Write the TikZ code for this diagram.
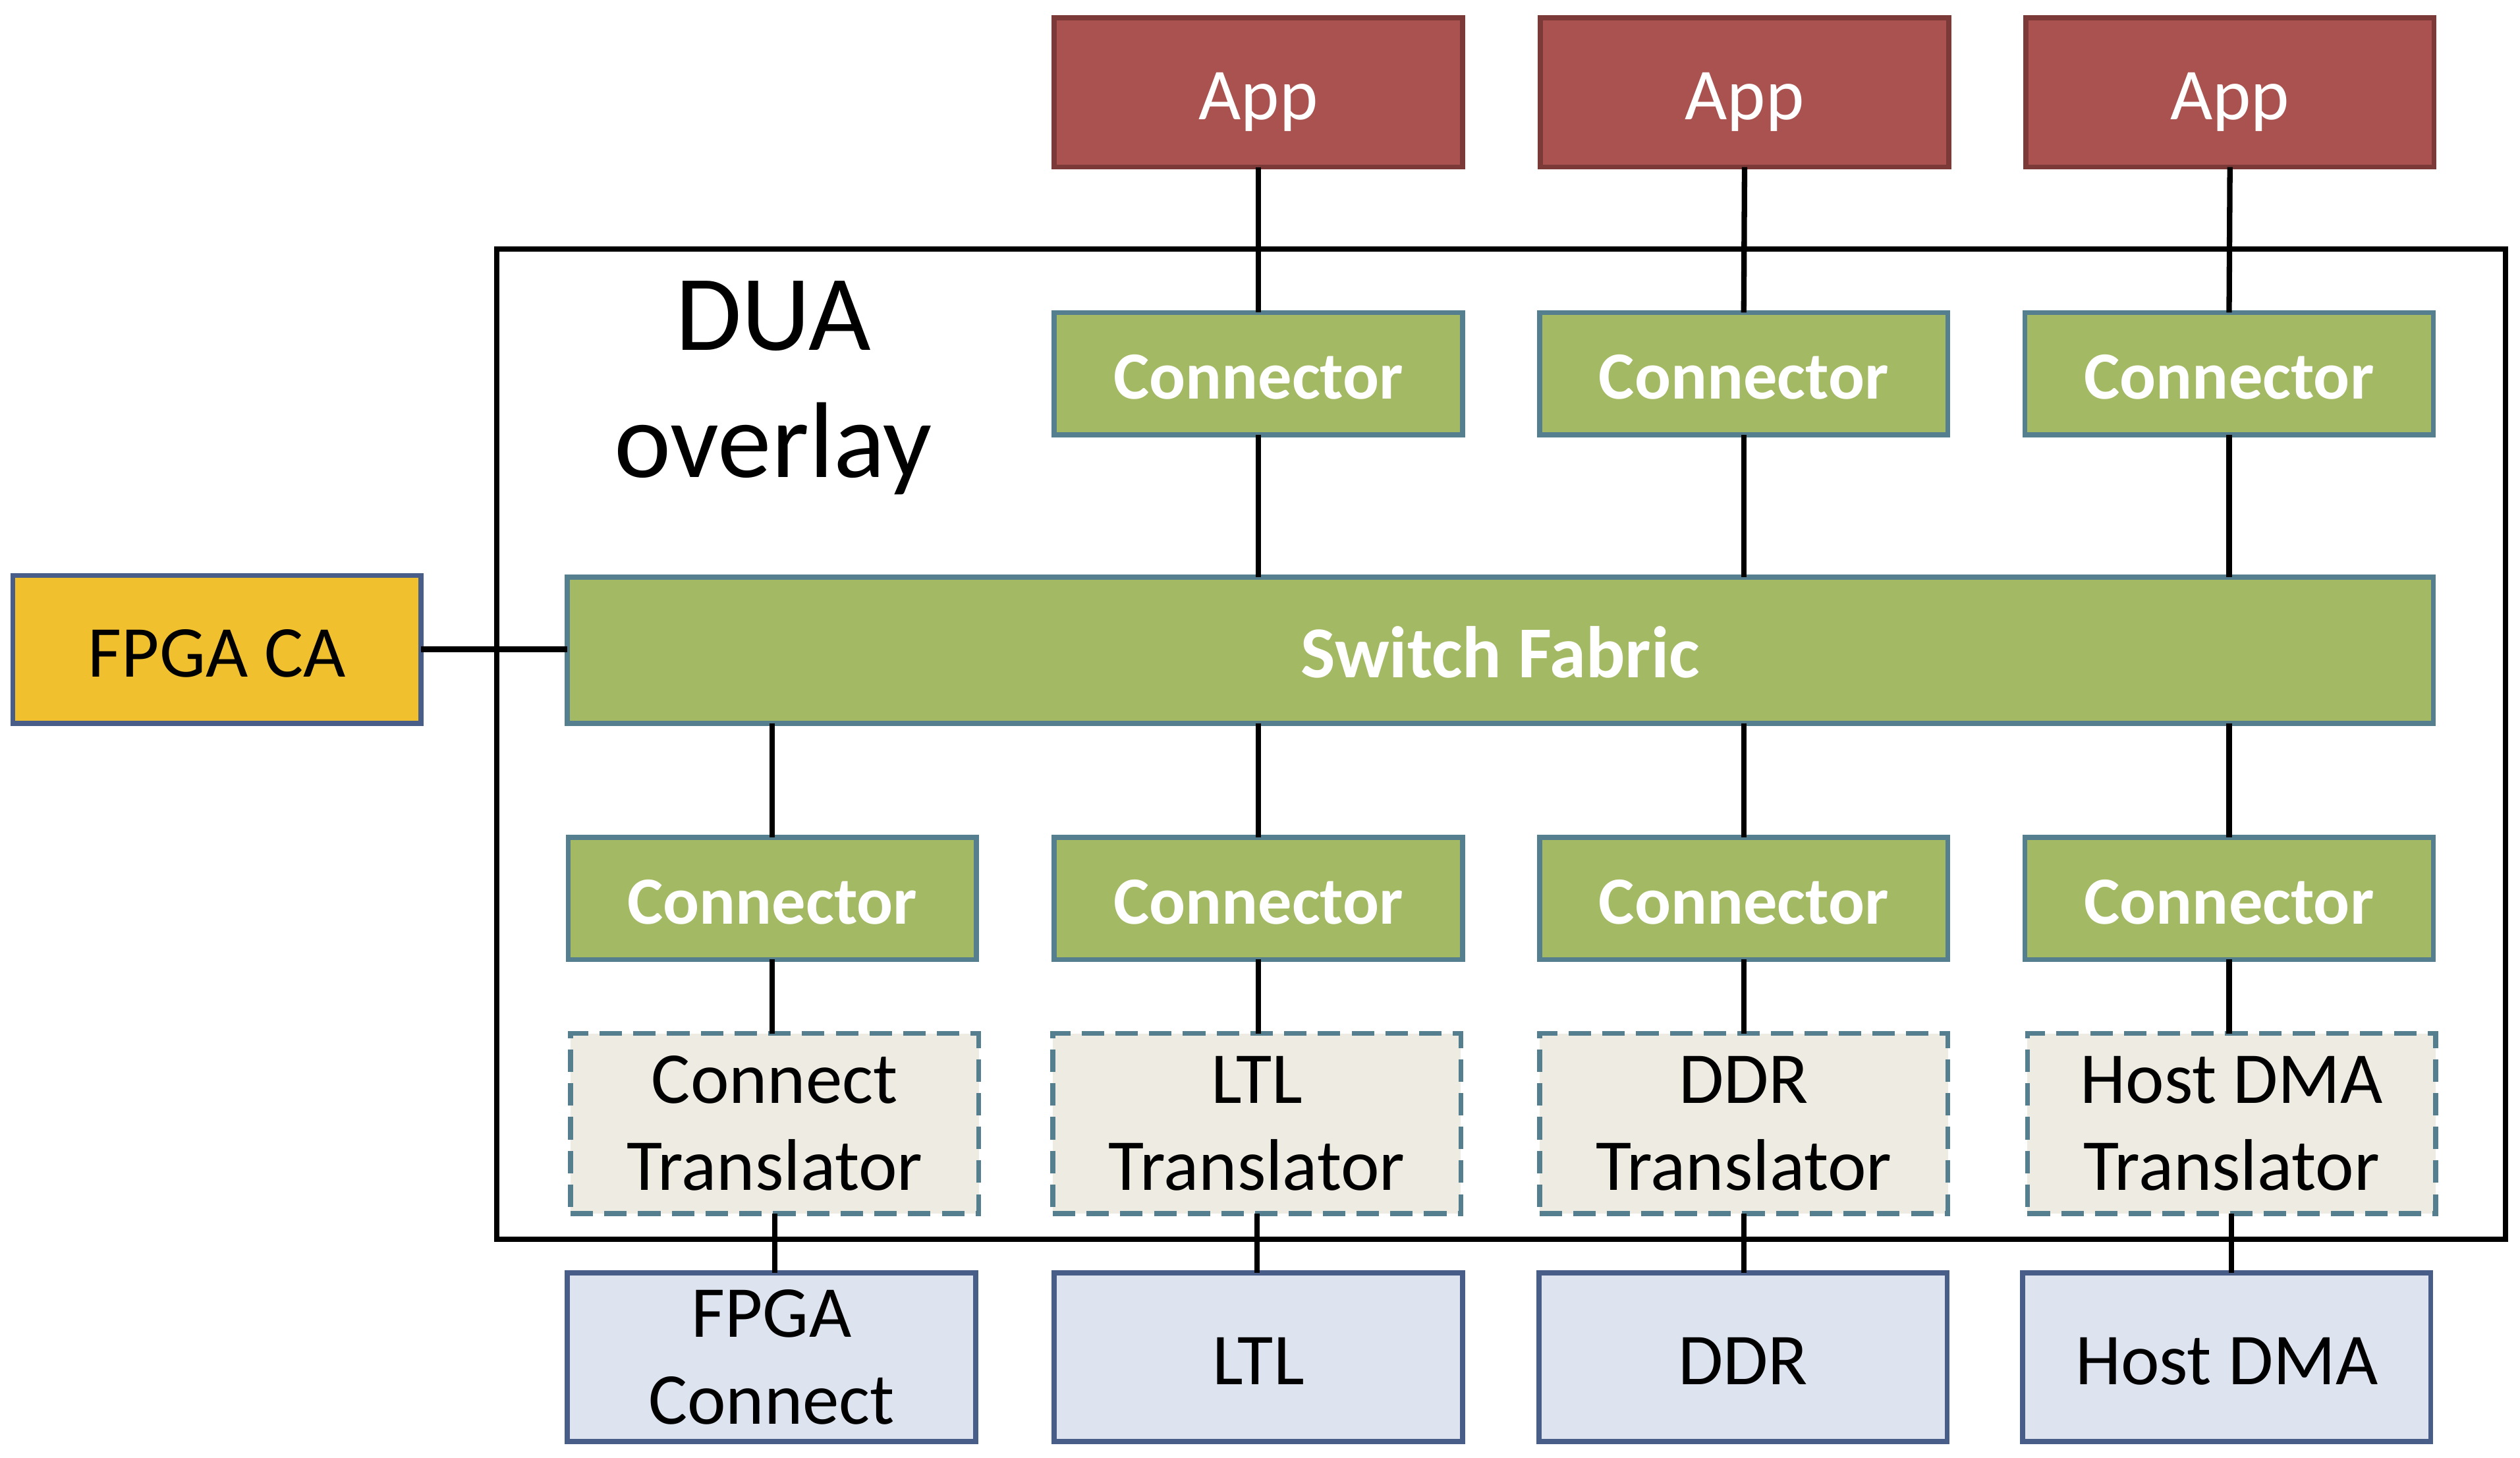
\documentclass[tikz,border=0pt]{standalone}
\usepackage{fontspec}
\setmainfont{Carlito}
\begin{document}
\begin{tikzpicture}[x=1pt,y=-1pt,
  every node/.style={inner sep=0pt,outer sep=0pt,align=center},
  base/.style={draw,line width=3.1pt,font=\fontsize{45.5}{54}\selectfont},
  oneline/.style={text height=34pt,text depth=0pt},
  appbox/.style={base,oneline,fill=appred,draw=appedge,text=white,minimum width=254pt,minimum height=93pt},
  conbox/.style={base,fill=congreen,draw=conedge,text=white,font=\fontsize{42}{54}\selectfont\bfseries,text height=31.5pt,text depth=0pt,minimum width=254pt,minimum height=76pt},
  trbox/.style={base,fill=trfill,draw=conedge,dash pattern=on 14pt off 7pt,minimum width=254pt,minimum height=112pt},
  hwbox/.style={base,fill=hwfill,draw=hwedge,minimum width=254pt,minimum height=105pt},
  wire/.style={line width=3.4pt,black}]
\definecolor{appred}{HTML}{AA5250}
\definecolor{appedge}{HTML}{7B3A38}
\definecolor{congreen}{HTML}{A3B963}
\definecolor{conedge}{HTML}{557F8F}
\definecolor{trfill}{HTML}{EDEBE2}
\definecolor{hwfill}{HTML}{DDE3EF}
\definecolor{hwedge}{HTML}{485E89}
\definecolor{cagold}{HTML}{F0C02E}
\useasboundingbox (0,0) rectangle (1568,907);

% DUA frame
\draw[line width=3.4pt] (309,155) rectangle (1559,771);
\node[anchor=base,font=\fontsize{67}{80}\selectfont] (dua) at (481,218) {DUA};
\node[anchor=base,font=\fontsize{67}{80}\selectfont] (ovl) at (481,297) {overlay};

% Apps
\node[appbox] (app1) at (783,57.5) {App};
\node[appbox] (app2) at (1085.5,57.5) {App};
\node[appbox] (app3) at (1387.5,57.5) {App};

% top connectors
\node[conbox] (tc1) at (783,232.5) {Connector};
\node[conbox] (tc2) at (1085,232.5) {Connector};
\node[conbox] (tc3) at (1387,232.5) {Connector};

% switch fabric and FPGA CA
\node[conbox,font=\fontsize{45.5}{54}\selectfont\bfseries,text height=34pt,minimum width=1161pt,minimum height=91pt] (sf) at (933.5,404.5) {Switch Fabric};
\node[base,oneline,fill=cagold,draw=hwedge,minimum width=254pt,minimum height=92pt] (ca) at (135,404) {FPGA CA};

% bottom connectors
\node[conbox] (bc1) at (480.5,559) {Connector};
\node[conbox] (bc2) at (783,559) {Connector};
\node[conbox] (bc3) at (1085,559) {Connector};
\node[conbox] (bc4) at (1387,559) {Connector};

% translators
\node[trbox] (tr1) at (482,699) {\raisebox{-3pt}{\parbox{240pt}{\centering Connect\\Translator}}};
\node[trbox] (tr2) at (782,699) {\raisebox{-3pt}{\parbox{240pt}{\centering LTL\\Translator}}};
\node[trbox] (tr3) at (1085,699) {\raisebox{-3pt}{\parbox{240pt}{\centering DDR\\Translator}}};
\node[trbox] (tr4) at (1388.5,699) {\raisebox{-3pt}{\parbox{240pt}{\centering Host DMA\\Translator}}};

% hardware
\node[hwbox] (hw1) at (480,844.5) {\raisebox{-3pt}{\parbox{240pt}{\centering FPGA\\Connect}}};
\node[hwbox,oneline] (hw2) at (783,844.5) {LTL};
\node[hwbox,oneline] (hw3) at (1084.5,844.5) {DDR};
\node[hwbox,oneline] (hw4) at (1385.5,844.5) {Host DMA};

% wires
\draw[wire] (app1.south) -- (tc1.north);
\draw[wire] (app2.south) -- (tc2.north);
\draw[wire] (app3.south) -- (tc3.north);
\draw[wire] (tc1.south) -- (tc1.south |- sf.north);
\draw[wire] (tc2.south) -- (tc2.south |- sf.north);
\draw[wire] (tc3.south) -- (tc3.south |- sf.north);
\draw[wire] (ca.east) -- (ca.east -| sf.west);
\draw[wire] (bc1.north |- sf.south) -- (bc1.north);
\draw[wire] (bc2.north |- sf.south) -- (bc2.north);
\draw[wire] (bc3.north |- sf.south) -- (bc3.north);
\draw[wire] (bc4.north |- sf.south) -- (bc4.north);
\draw[wire] (bc1.south) -- (bc1.south |- tr1.north);
\draw[wire] (bc2.south) -- (bc2.south |- tr2.north);
\draw[wire] (bc3.south) -- (bc3.south |- tr3.north);
\draw[wire] (bc4.south) -- (bc4.south |- tr4.north);
\draw[wire] (tr1.south) -- (tr1.south |- hw1.north);
\draw[wire] (tr2.south) -- (tr2.south |- hw2.north);
\draw[wire] (tr3.south) -- (tr3.south |- hw3.north);
\draw[wire] (tr4.south) -- (tr4.south |- hw4.north);
\end{tikzpicture}
\end{document}
